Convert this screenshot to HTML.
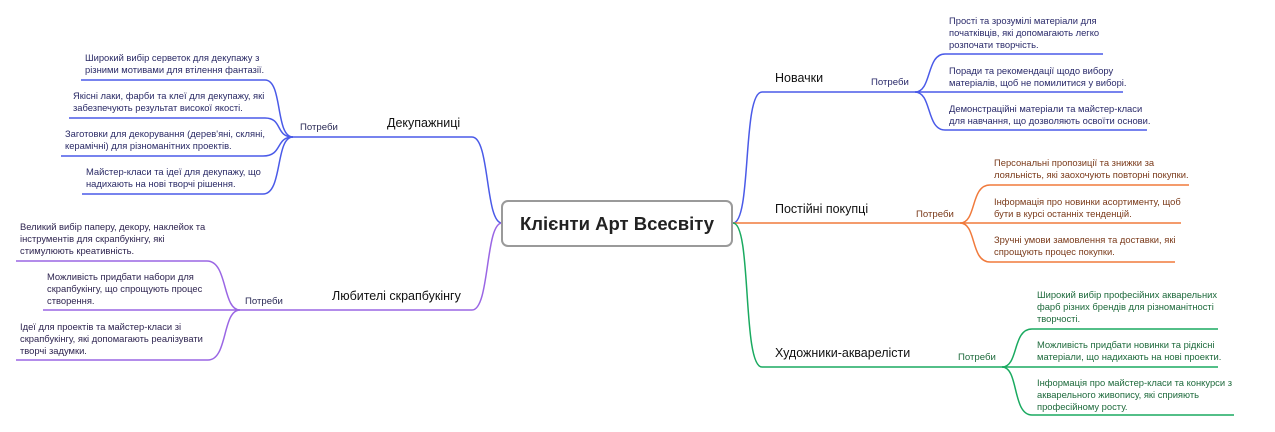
<!DOCTYPE html>
<html><head><meta charset="utf-8"><style>
html,body{margin:0;padding:0;background:#fff;}
svg{display:block;}
text{font-family:"Liberation Sans",sans-serif;}
.t{font-size:9.4px;}
.l{font-size:12.5px;fill:#111;}
.p{font-size:9.6px;}
</style></head><body>
<svg width="1275" height="432" viewBox="0 0 1275 432" xmlns="http://www.w3.org/2000/svg">
<g fill="none" stroke-width="1.5">
<!-- blue left -->
<g stroke="#4a5ae8">
<path d="M502,223 C485,223 490,137 472,137 L293,137"/>
<path d="M293,137 C275,137 283,80 265,80 L81,80"/>
<path d="M293,137 C275,137 283,118 265,118 L69,118"/>
<path d="M293,137 C275,137 283,156 263,156 L61,156"/>
<path d="M293,137 C275,137 283,194 263,194 L82,194"/>
</g>
<!-- purple -->
<g stroke="#9a66e4">
<path d="M502,223 C485,223 490,310 472,310 L240,310"/>
<path d="M240,310 C222,310 228,261 207,261 L16,261"/>
<path d="M240,310 L43,310"/>
<path d="M240,310 C222,310 228,360 208,360 L16,360"/>
</g>
<!-- blue right -->
<g stroke="#4a5ae8">
<path d="M733,223 C752,223 742,92 762,92 L915,92"/>
<path d="M915,92 C932,92 926,54 945,54 L1103,54"/>
<path d="M915,92 L1123,92"/>
<path d="M915,92 C932,92 926,130 945,130 L1147,130"/>
</g>
<!-- orange -->
<g stroke="#f07a3c">
<path d="M733,223 L960,223"/>
<path d="M960,223 C977,223 970,185 990,185 L1189,185"/>
<path d="M960,223 L1181,223"/>
<path d="M960,223 C977,223 970,262 990,262 L1175,262"/>
</g>
<!-- green -->
<g stroke="#1aaa60">
<path d="M733,223 C752,223 742,367 762,367 L1002,367"/>
<path d="M1002,367 C1019,367 1012,329 1032,329 L1218,329"/>
<path d="M1002,367 L1218,367"/>
<path d="M1002,367 C1019,367 1012,415 1032,415 L1234,415"/>
</g>
</g>
<rect x="502" y="201" width="230" height="45" rx="6" fill="#fff" stroke="#9a9a9a" stroke-width="2"/>
<text x="617" y="230" text-anchor="middle" style="font-size:18.5px;font-weight:bold;fill:#222">Клієнти Арт Всесвіту</text>

<!-- labels -->
<text class="l" x="387" y="127">Декупажниці</text>
<text class="l" x="332" y="300">Любителі скрапбукінгу</text>
<text class="l" x="775" y="82">Новачки</text>
<text class="l" x="775" y="213">Постійні покупці</text>
<text class="l" x="775" y="357">Художники-акварелісти</text>
<text class="p" x="300" y="130" fill="#2a2a55">Потреби</text>
<text class="p" x="245" y="304" fill="#2a2a55">Потреби</text>
<text class="p" x="871" y="85" fill="#2a2a6a">Потреби</text>
<text class="p" x="916" y="217" fill="#7a3a1a">Потреби</text>
<text class="p" x="958" y="360" fill="#1e6a3c">Потреби</text>

<g class="t" fill="#2a2a66">
<text x="85" y="61">Широкий вибір серветок для декупажу з</text>
<text x="85" y="73">різними мотивами для втілення фантазії.</text>
<text x="73" y="99">Якісні лаки, фарби та клеї для декупажу, які</text>
<text x="73" y="111">забезпечують результат високої якості.</text>
<text x="65" y="137">Заготовки для декорування (дерев'яні, скляні,</text>
<text x="65" y="149">керамічні) для різноманітних проектів.</text>
<text x="86" y="175">Майстер-класи та ідеї для декупажу, що</text>
<text x="86" y="187">надихають на нові творчі рішення.</text>
</g>
<g class="t" fill="#2e2450">
<text x="20" y="230">Великий вибір паперу, декору, наклейок та</text>
<text x="20" y="242">інструментів для скрапбукінгу, які</text>
<text x="20" y="254">стимулюють креативність.</text>
<text x="47" y="280">Можливість придбати набори для</text>
<text x="47" y="292">скрапбукінгу, що спрощують процес</text>
<text x="47" y="304">створення.</text>
<text x="20" y="330">Ідеї для проектів та майстер-класи зі</text>
<text x="20" y="342">скрапбукінгу, які допомагають реалізувати</text>
<text x="20" y="354">творчі задумки.</text>
</g>
<g class="t" fill="#2a2a6a">
<text x="949" y="24">Прості та зрозумілі матеріали для</text>
<text x="949" y="36">початківців, які допомагають легко</text>
<text x="949" y="48">розпочати творчість.</text>
<text x="949" y="74">Поради та рекомендації щодо вибору</text>
<text x="949" y="86">матеріалів, щоб не помилитися у виборі.</text>
<text x="949" y="112">Демонстраційні матеріали та майстер-класи</text>
<text x="949" y="124">для навчання, що дозволяють освоїти основи.</text>
</g>
<g class="t" fill="#7a3a1a">
<text x="994" y="166">Персональні пропозиції та знижки за</text>
<text x="994" y="178">лояльність, які заохочують повторні покупки.</text>
<text x="994" y="205">Інформація про новинки асортименту, щоб</text>
<text x="994" y="217">бути в курсі останніх тенденцій.</text>
<text x="994" y="243">Зручні умови замовлення та доставки, які</text>
<text x="994" y="255">спрощують процес покупки.</text>
</g>
<g class="t" fill="#1e6a3c">
<text x="1037" y="298">Широкий вибір професійних акварельних</text>
<text x="1037" y="310">фарб різних брендів для різноманітності</text>
<text x="1037" y="322">творчості.</text>
<text x="1037" y="348">Можливість придбати новинки та рідкісні</text>
<text x="1037" y="360">матеріали, що надихають на нові проекти.</text>
<text x="1037" y="386">Інформація про майстер-класи та конкурси з</text>
<text x="1037" y="398">акварельного живопису, які сприяють</text>
<text x="1037" y="410">професійному росту.</text>
</g>
</svg>
</body></html>
